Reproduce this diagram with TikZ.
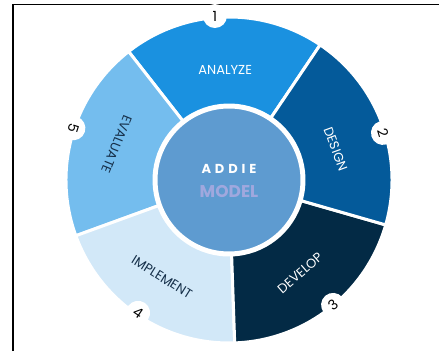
\documentclass[tikz,border=0pt]{standalone}
\usepackage{fontspec}
\setmainfont{Poppins}
\usetikzlibrary{calc}

\definecolor{analyzeblue}{RGB}{26,145,224}
\definecolor{designblue}{RGB}{4,90,154}
\definecolor{developblue}{RGB}{3,42,69}
\definecolor{implementblue}{RGB}{210,232,248}
\definecolor{evaluateblue}{RGB}{116,189,238}
\definecolor{hubblue}{RGB}{94,155,208}
\definecolor{modellilac}{RGB}{160,168,222}
\definecolor{inkblue}{RGB}{22,48,74}

\tikzset{
  phase/.style={draw=white, line width=3pt, line join=round},
  phaselabel/.style={font=\fontsize{13}{13}\selectfont, inner sep=0pt},
  badge/.style={circle, fill=white, minimum size=24pt, inner sep=0pt,
    font=\fontsize{14}{14}\selectfont},
}

\begin{document}
\begin{tikzpicture}[x=1pt,y=1pt]
    \useasboundingbox (0,0) rectangle (439,351);

    % Frame
    \draw[line width=1.5pt] (13,0) -- (13,346.5) -- (439,346.5);

    \coordinate (c) at (229,171);

    % Ring segments
    \foreach \a/\col in {56/analyzeblue,128/evaluateblue,200/implementblue,272/developblue,344/designblue}{
        \filldraw[phase, fill=\col] ($(c)+(\a:163)$)
            arc[start angle=\a, end angle=\a+72, radius=163]
            -- ($(c)+({\a+72}:75)$)
            arc[start angle=\a+72, end angle=\a, radius=75] -- cycle;
    }

    % Hub
    \node[circle, fill=hubblue, draw=white, line width=3pt, minimum size=146pt] (hub) at (c) {};
    \node[text=white, font=\fontsize{13}{13}\selectfont\bfseries\addfontfeatures{LetterSpace=30}] (addie) at (229,182) {ADDIE};
    \node[text=modellilac, font=\fontsize{17}{17}\selectfont\bfseries] (model) at (229,159) {MODEL};

    % Phase labels
    \node[phaselabel, text=white] (analyze) at ($(c)+(92:110)$) {ANALYZE};
    \node[phaselabel, text=white, rotate=-70] (design) at ($(c)+(16.2:111)$) {DESIGN};
    \node[phaselabel, text=white, rotate=41] (develop) at ($(c)+(-52.6:117)$) {DEVELOP};
    \node[phaselabel, text=inkblue, rotate=-32] (implement) at ($(c)+(235.4:118)$) {IMPLEMENT};
    \node[phaselabel, text=inkblue, rotate=-112] (evaluate) at ($(c)+(162.3:118)$) {EVALUATE};

    % Step numbers
    \node[badge] (n1) at ($(c)+(94.9:164.6)$) {1};
    \node[badge, rotate=-73] (n2) at ($(c)+(17:161)$) {2};
    \node[badge, rotate=40] (n3) at ($(c)+(-50.2:162.6)$) {3};
    \node[badge, rotate=-34] (n4) at ($(c)+(235.6:161)$) {4};
    \node[badge, rotate=-108] (n5) at ($(c)+(161.6:164)$) {5};

\end{tikzpicture}
\end{document}
